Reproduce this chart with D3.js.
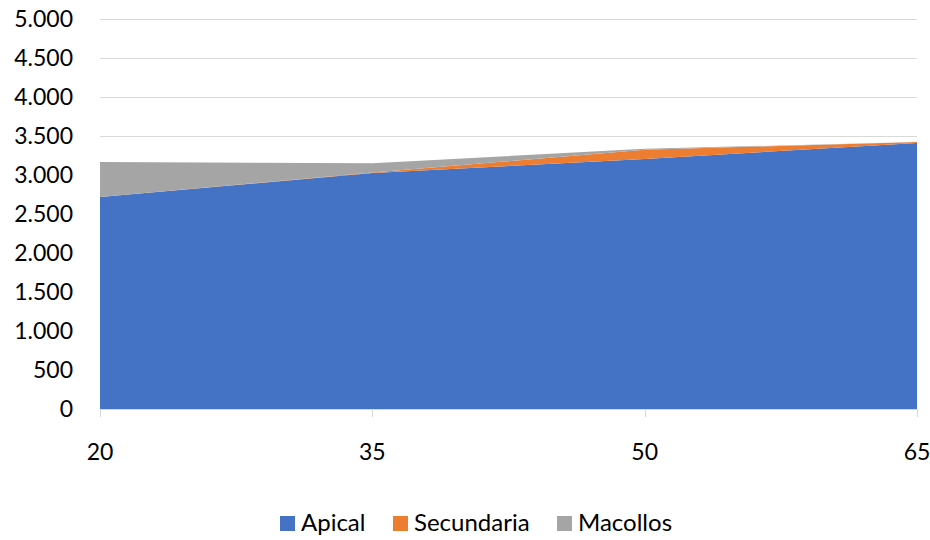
<!DOCTYPE html>
<html>
<head>
<meta charset="utf-8">
<script src="https://cdn.jsdelivr.net/npm/d3@7"></script>
<style>
  html, body { margin: 0; padding: 0; background: #fff; }
  svg { display: block; }
  text { font-family: Lato, "Open Sans", sans-serif; fill: #000; }
</style>
</head>
<body>
<svg id="chart" width="930" height="540"></svg>
<script>
const categories = [20, 35, 50, 65];
const apical     = [2718, 3026, 3205, 3410];
const secundaria = [0, 6, 118, 14];
const macollos   = [449, 120, 12, 0];
const seriesNames = ["Apical", "Secundaria", "Macollos"];
const colors = ["#4472C4", "#ED7D31", "#A5A5A5"];
const yTicks = [0, 500, 1000, 1500, 2000, 2500, 3000, 3500, 4000, 4500, 5000];

const rows = categories.map((c, i) => ({
  x: c, Apical: apical[i], Secundaria: secundaria[i], Macollos: macollos[i]
}));

const svg = d3.select("#chart");
const plotLeft = 100, plotRight = 917, plotTop = 19, plotBottom = 409;

const x = d3.scaleLinear().domain([20, 65]).range([plotLeft, plotRight]);
const y = d3.scaleLinear().domain([0, 5000]).range([plotBottom, plotTop]);

const fmt = v => d3.format(",")(v).replace(/,/g, ".");

// gridlines
svg.append("g").selectAll("line").data(yTicks.filter(t => t > 0)).join("line")
  .attr("x1", plotLeft).attr("x2", plotRight)
  .attr("y1", d => Math.round(y(d)) + 0.5).attr("y2", d => Math.round(y(d)) + 0.5)
  .attr("stroke", "#d9d9d9").attr("stroke-width", 1);

// stacked areas
const stack = d3.stack().keys(seriesNames);
const layers = stack(rows);
const area = d3.area()
  .x(d => x(d.data.x))
  .y0(d => y(d[0]))
  .y1(d => y(d[1]));

svg.append("g").selectAll("path").data(layers).join("path")
  .attr("d", area)
  .attr("fill", (d, i) => colors[i]);

// x axis line + ticks
const xg = svg.append("g");
xg.append("line").attr("x1", plotLeft).attr("x2", plotRight)
  .attr("y1", plotBottom + 0.5).attr("y2", plotBottom + 0.5)
  .attr("stroke", "#d9d9d9");
xg.selectAll("line.tick").data(categories).join("line")
  .attr("class", "tick")
  .attr("x1", d => Math.round(x(d)) + 0.5).attr("x2", d => Math.round(x(d)) + 0.5)
  .attr("y1", plotBottom).attr("y2", plotBottom + 8)
  .attr("stroke", "#d9d9d9");
xg.selectAll("text").data(categories).join("text")
  .attr("x", d => x(d)).attr("y", 460)
  .attr("text-anchor", "middle")
  .style("font-size", "23px")
  .text(d => d);

// y labels
svg.append("g").selectAll("text").data(yTicks).join("text")
  .attr("x", 73).attr("y", d => y(d) + 8)
  .attr("text-anchor", "end")
  .style("font-size", "23px")
  .text(d => fmt(d));

// legend
const legendItems = [
  { name: "Apical", color: colors[0], x: 280 },
  { name: "Secundaria", color: colors[1], x: 393 },
  { name: "Macollos", color: colors[2], x: 557 }
];
const lg = svg.append("g");
lg.selectAll("rect").data(legendItems).join("rect")
  .attr("x", d => d.x).attr("y", 516)
  .attr("width", 15).attr("height", 15)
  .attr("fill", d => d.color);
lg.selectAll("text").data(legendItems).join("text")
  .attr("x", d => d.x + 21).attr("y", 531)
  .style("font-size", "24px")
  .text(d => d.name);
</script>
</body>
</html>
